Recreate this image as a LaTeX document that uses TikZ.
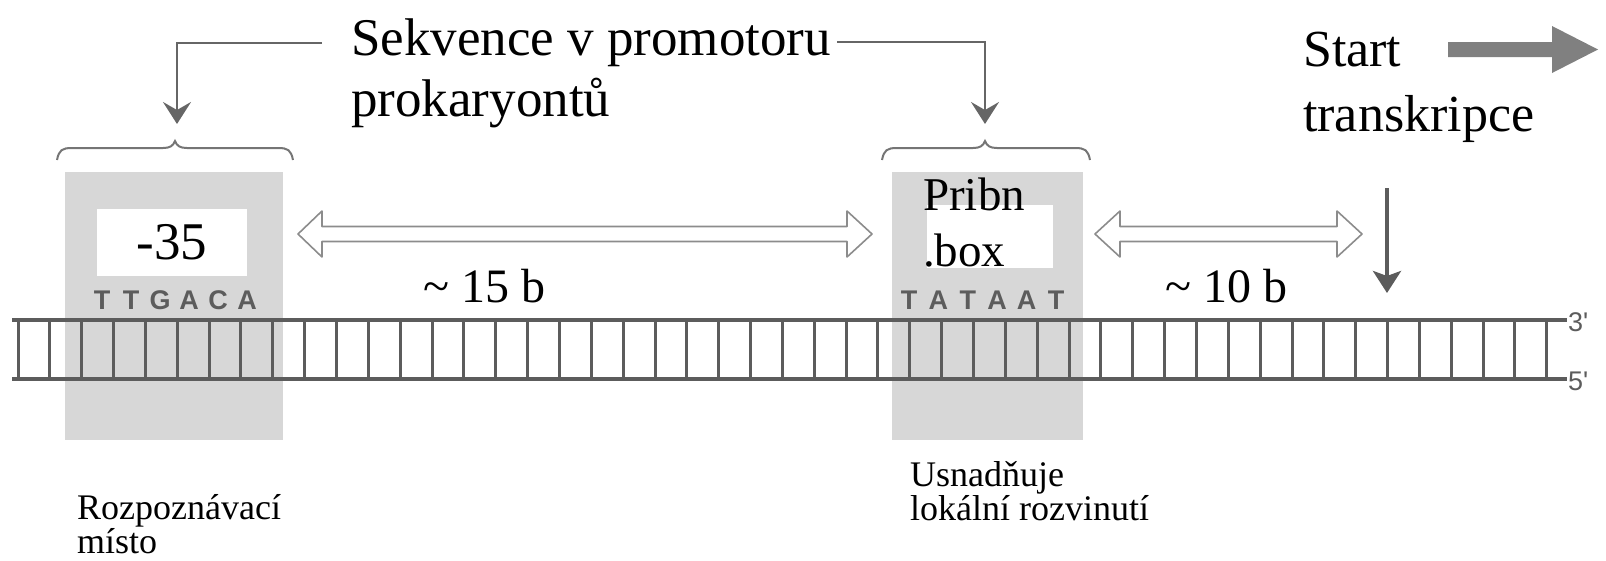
\documentclass[tikz,border=0pt]{standalone}
\usepackage{fontspec}
\setmainfont{Liberation Serif}
\newfontfamily\lettersf{Liberation Sans}
\usetikzlibrary{arrows.meta}
\definecolor{boxgray}{HTML}{D7D7D7}
\definecolor{dnagray}{HTML}{5C5C5C}
\definecolor{outlgray}{HTML}{8C8C8C}
\definecolor{bigarrow}{HTML}{808080}
\definecolor{conngray}{HTML}{666666}
\begin{document}
\begin{tikzpicture}[x=1pt,y=-1pt,
  bigtxt/.style={inner sep=0pt, anchor=base west, font=\fontsize{53}{58}\selectfont},
  midtxt/.style={inner sep=0pt, anchor=base west, font=\fontsize{47}{54}\selectfont},
  smalltxt/.style={inner sep=0pt, anchor=base west, font=\fontsize{36}{42}\selectfont},
  graybox/.style={fill=boxgray, draw=none, inner sep=0pt},
  whitebox/.style={fill=white, draw=none, inner sep=0pt},
  seqletter/.style={inner sep=0pt, text=dnagray, font=\lettersf\bfseries\fontsize{27}{27}\selectfont},
  endlabel/.style={inner sep=0pt, anchor=west, text=dnagray, font=\lettersf\fontsize{27}{27}\selectfont},
  strand/.style={draw=dnagray, line width=3.5pt},
  rung/.style={draw=dnagray, line width=3pt},
  hollow/.style={draw=outlgray, line width=1.6pt, fill=white, line join=round},
  bracestyle/.style={draw=conngray!90, line width=2pt},
  conn/.style={draw=conngray, line width=2.5pt, -{Stealth[length=22pt, width=28pt, inset=8pt]}},
  downarr/.style={draw=dnagray, line width=4pt, -{Stealth[length=22pt, width=28pt, inset=5pt]}}
]
\useasboundingbox (0,0) rectangle (1606,560);

% gray boxes
\node[graybox, minimum width=218pt, minimum height=268pt] (box35) at (174,306) {};
\node[graybox, minimum width=191pt, minimum height=268pt] (box10) at (987.5,306) {};
% white boxes
\node[whitebox, minimum width=150pt, minimum height=67pt] (w35) at (172,242.5) {};
\node[whitebox, minimum width=126pt, minimum height=63pt] (w10) at (990,236.5) {};
\node[inner sep=0pt, font=\fontsize{53}{58}\selectfont] (t35) at (172,242.5) {-35};
\node[midtxt] (pribn1) at (923,210) {Pribn};
\node[midtxt] (pribn2) at (923,266) {.box};

% sequence letters
\foreach \l [count=\i] in {T,T,G,A,C,A}
  \node[seqletter] (sa\i) at ({102+(\i-1)*29},300) {\l};
\foreach \l [count=\i] in {T,A,T,A,A,T}
  \node[seqletter] (sb\i) at ({909+(\i-1)*29.4},300) {\l};

% DNA ladder
\coordinate (s3l) at (12,320); \coordinate (s3r) at (1567,320);
\coordinate (s5l) at (12,379); \coordinate (s5r) at (1567,379);
\foreach \i in {0,...,48}
  \draw[rung] ({18+\i*31.85},320) -- ({18+\i*31.85},379);
\draw[strand] (s3l) -- (s3r);
\draw[strand] (s5l) -- (s5r);
\node[endlabel] (p3) at (1568,322) {3'};
\node[endlabel] (p5) at (1568,381) {5'};

% braces
\draw[bracestyle] (57,160) .. controls (59,150) and (62,148) .. (72,148) -- (163,148)
  .. controls (170,148) and (173,146) .. (175,141) .. controls (177,146) and (180,148) .. (187,148)
  -- (278,148) .. controls (288,148) and (291,150) .. (293,160);
\draw[bracestyle] (882,160) .. controls (884,150) and (887,148) .. (897,148) -- (973,148)
  .. controls (980,148) and (983,146) .. (985,141) .. controls (987,146) and (990,148) .. (997,148)
  -- (1075,148) .. controls (1085,148) and (1088,150) .. (1090,160);
\coordinate (brace35) at (177,124);
\coordinate (brace10) at (985,124);

% title text
\node[bigtxt] (title1) at (351,55) {Sekvence v promotoru};
\node[bigtxt] (title2) at (351,116) {prokaryontů};
\coordinate (tl) at (322,43);
\coordinate (tr) at (837,42);
\draw[conn] (tl) -- (tl -| brace35) -- (brace35);
\draw[conn] (tr) -- (tr -| brace10) -- (brace10);

% double arrows
\draw[hollow] (298,234) -- (322,211) -- (322,226.5) -- (847,226.5) -- (847,211) -- (872,234)
  -- (847,257) -- (847,241.5) -- (322,241.5) -- (322,257) -- cycle;
\draw[hollow] (1095,234) -- (1120,211) -- (1120,226.5) -- (1337,226.5) -- (1337,211) -- (1362,234)
  -- (1337,257) -- (1337,241.5) -- (1120,241.5) -- (1120,257) -- cycle;
\node[midtxt, font=\fontsize{48}{54}\selectfont] (d15) at (423,302) {\textasciitilde{} 15 b};
\node[midtxt, font=\fontsize{48}{54}\selectfont] (d10) at (1165,302) {\textasciitilde{} 10 b};

% start of transcription
\node[bigtxt, font=\fontsize{52}{58}\selectfont] (start1) at (1303,66) {Start};
\node[bigtxt, font=\fontsize{52}{58}\selectfont] (start2) at (1303,131) {transkripce};
\fill[bigarrow] (1448,42) -- (1552,42) -- (1552,26) -- (1598,49.5) -- (1552,73) -- (1552,57) -- (1448,57) -- cycle;
\coordinate (dtop) at (1387,188);
\coordinate (dbot) at (1387,293);
\draw[downarr] (dtop) -- (dbot);

% bottom labels
\node[smalltxt] (rz1) at (77,519) {Rozpoznávací};
\node[smalltxt] (rz2) at (77,553) {místo};
\node[smalltxt] (us1) at (910,486) {Usnadňuje};
\node[smalltxt] (us2) at (910,520) {lokální rozvinutí};
\end{tikzpicture}
\end{document}
